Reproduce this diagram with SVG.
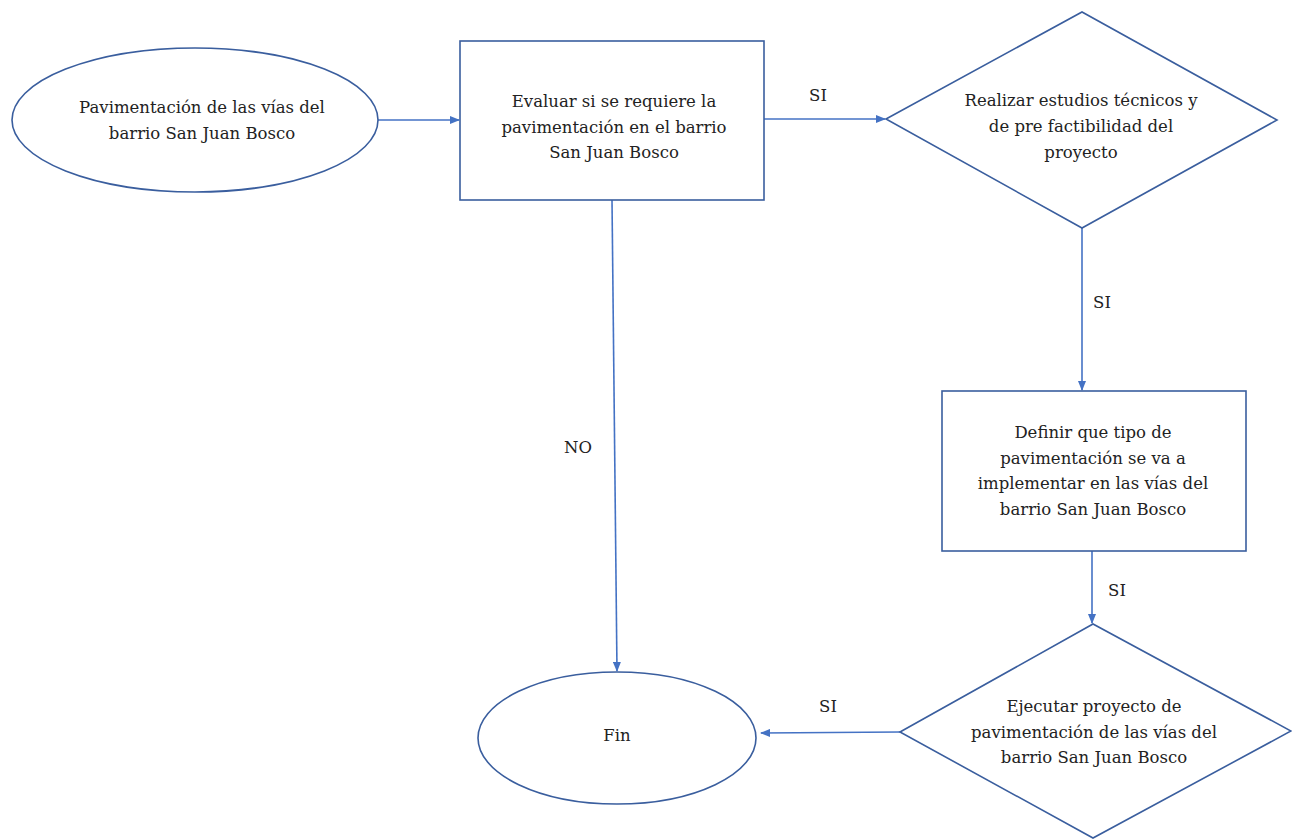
<svg xmlns="http://www.w3.org/2000/svg" width="1292" height="840" viewBox="0 0 1292 840">
<defs>
<marker id="ah" markerWidth="10" markerHeight="8" refX="9" refY="4" orient="auto" markerUnits="userSpaceOnUse">
<path d="M0,0 L10,4 L0,8 Z" fill="#4472C4"/>
</marker>
<style>
.shape{fill:#fff;stroke:#3A5E9E;stroke-width:1.6}
.conn{fill:none;stroke:#4472C4;stroke-width:1.6}
.t{font-family:'DejaVu Serif','Liberation Serif',serif;font-size:16.5px;fill:#222;text-anchor:middle}
</style>
</defs>
<rect width="1292" height="840" fill="#fff"/>
<g id="connectors">
<line class="conn" x1="378" y1="120" x2="459" y2="120" marker-end="url(#ah)"/>
<line class="conn" x1="764" y1="119" x2="885" y2="119" marker-end="url(#ah)"/>
<line class="conn" x1="1082" y1="228" x2="1082" y2="390" marker-end="url(#ah)"/>
<line class="conn" x1="1092" y1="551" x2="1092" y2="623" marker-end="url(#ah)"/>
<line class="conn" x1="900" y1="732" x2="761" y2="733" marker-end="url(#ah)"/>
<line class="conn" x1="612" y1="200" x2="617" y2="671" marker-end="url(#ah)"/>
<text class="t" x="818" y="101">SI</text>
<text class="t" x="1102" y="308">SI</text>
<text class="t" x="1117" y="596">SI</text>
<text class="t" x="828" y="712">SI</text>
<text class="t" x="578" y="453">NO</text>
</g>
<g id="start">
<ellipse class="shape" cx="195" cy="120" rx="183" ry="72"/>
<text class="t" x="202" y="113">Pavimentación de las vías del</text>
<text class="t" x="202" y="139">barrio San Juan Bosco</text>
</g>
<g id="evaluar">
<rect class="shape" x="460" y="41" width="304" height="159"/>
<text class="t" x="614" y="107">Evaluar si se requiere la</text>
<text class="t" x="614" y="133">pavimentación en el barrio</text>
<text class="t" x="614" y="158">San Juan Bosco</text>
</g>
<g id="estudios">
<polygon class="shape" points="886,119 1082,12 1277,120 1082,228"/>
<text class="t" x="1081" y="106">Realizar estudios técnicos y</text>
<text class="t" x="1081" y="132">de pre factibilidad del</text>
<text class="t" x="1081" y="158">proyecto</text>
</g>
<g id="definir">
<rect class="shape" x="942" y="391" width="304" height="160"/>
<text class="t" x="1093" y="438">Definir que tipo de</text>
<text class="t" x="1093" y="464">pavimentación se va a</text>
<text class="t" x="1093" y="489">implementar en las vías del</text>
<text class="t" x="1093" y="515">barrio San Juan Bosco</text>
</g>
<g id="ejecutar">
<polygon class="shape" points="900,732 1093,624 1291,731 1093,838"/>
<text class="t" x="1094" y="712">Ejecutar proyecto de</text>
<text class="t" x="1094" y="738">pavimentación de las vías del</text>
<text class="t" x="1094" y="763">barrio San Juan Bosco</text>
</g>
<g id="fin">
<ellipse class="shape" cx="617" cy="738" rx="139" ry="66"/>
<text class="t" x="617" y="741">Fin</text>
</g>
</svg>
